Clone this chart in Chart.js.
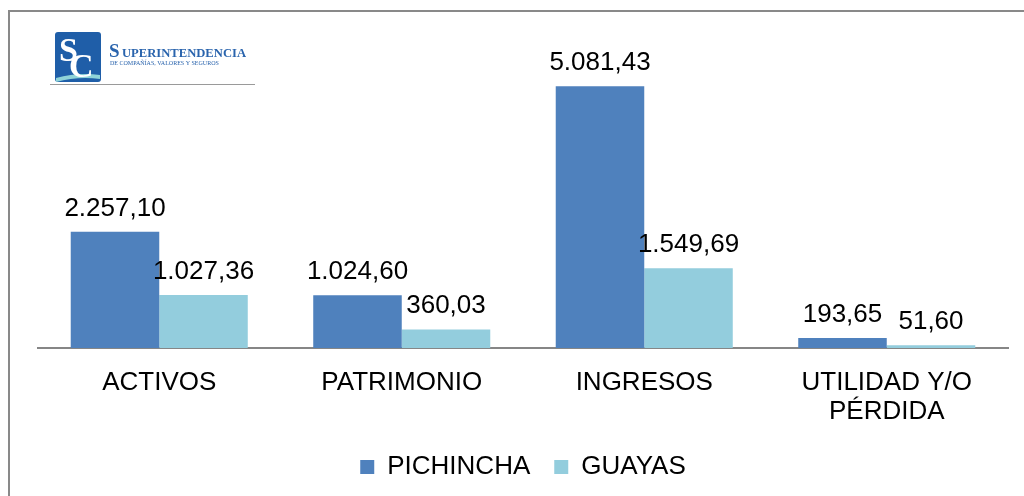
<!DOCTYPE html>
<html><head><meta charset="utf-8">
<script src="https://cdn.jsdelivr.net/npm/chart.js@4.4.0/dist/chart.umd.min.js"></script>
<style>html,body{margin:0;padding:0;background:#fff}#wrap{width:1024px;height:496px;position:relative}</style>
</head><body><div id="wrap"><canvas id="c" width="1024" height="496"></canvas></div>
<script>
const categories = ['ACTIVOS', 'PATRIMONIO', 'INGRESOS', ['UTILIDAD Y/O', 'PÉRDIDA']];
const seriesNames = ['PICHINCHA', 'GUAYAS'];
const pichincha = [2257.10, 1024.60, 5081.43, 193.65];
const guayas = [1027.36, 360.03, 1549.69, 51.60];
const seriesColors = ['#4F81BD', '#93CDDD'];

function fmt(v) {
  const parts = v.toFixed(2).split('.');
  const intPart = parts[0].replace(/\B(?=(\d{3})+(?!\d))/g, '.');
  return intPart + ',' + parts[1];
}

function roundRect(ctx, x, y, w, h, r) {
  ctx.beginPath();
  ctx.moveTo(x + r, y);
  ctx.lineTo(x + w - r, y); ctx.quadraticCurveTo(x + w, y, x + w, y + r);
  ctx.lineTo(x + w, y + h - r); ctx.quadraticCurveTo(x + w, y + h, x + w - r, y + h);
  ctx.lineTo(x + r, y + h); ctx.quadraticCurveTo(x, y + h, x, y + h - r);
  ctx.lineTo(x, y + r); ctx.quadraticCurveTo(x, y, x + r, y);
  ctx.closePath();
}

const decorPlugin = {
  id: 'decor',
  beforeDraw(chart) {
    const ctx = chart.ctx;
    ctx.save();
    ctx.fillStyle = '#fff';
    ctx.fillRect(0, 0, chart.width, chart.height);
    // frame
    ctx.strokeStyle = '#898989';
    ctx.lineWidth = 2;
    ctx.beginPath();
    ctx.moveTo(9, 496); ctx.lineTo(9, 11); ctx.lineTo(1024, 11);
    ctx.stroke();
    // logo box
    const x = 55, y = 32, w = 46, h = 50;
    ctx.fillStyle = '#1f5ea8';
    roundRect(ctx, x, y, w, h, 3);
    ctx.fill();
    ctx.fillStyle = '#8fd3d8';
    ctx.beginPath();
    ctx.moveTo(x + 1, y + h - 4);
    ctx.quadraticCurveTo(x + w / 2, y + h - 10, x + w - 1, y + h - 7);
    ctx.lineTo(x + w - 1, y + h - 3);
    ctx.quadraticCurveTo(x + w / 2, y + h - 6, x + 1, y + h);
    ctx.closePath();
    ctx.fill();
    ctx.fillStyle = '#ffffff';
    ctx.font = 'bold 34px "Liberation Serif"';
    ctx.textBaseline = 'alphabetic';
    ctx.textAlign = 'left';
    ctx.fillText('S', x + 4, y + 29);
    ctx.fillText('C', x + 14, y + 45);
    // logo text
    ctx.fillStyle = '#2a64ad';
    ctx.font = 'bold 19px "Liberation Serif"';
    ctx.fillText('S', 109, 57);
    ctx.font = 'bold 13px "Liberation Serif"';
    ctx.fillText('UPERINTENDENCIA', 122, 57, 124);
    ctx.font = '6px "Liberation Serif"';
    ctx.fillText('DE COMPAÑÍAS, VALORES Y SEGUROS', 110, 65, 136);
    ctx.strokeStyle = '#9a9a9a';
    ctx.lineWidth = 1;
    ctx.beginPath();
    ctx.moveTo(50, 84.5); ctx.lineTo(255, 84.5);
    ctx.stroke();
    ctx.restore();
  },
  afterDatasetsDraw(chart) {
    const ctx = chart.ctx;
    ctx.save();
    ctx.fillStyle = '#000';
    ctx.font = '26px "Liberation Sans"';
    ctx.textAlign = 'center';
    ctx.textBaseline = 'alphabetic';
    chart.data.datasets.forEach((ds, i) => {
      const meta = chart.getDatasetMeta(i);
      meta.data.forEach((el, j) => {
        ctx.fillText(fmt(ds.data[j]), el.x, el.y - 16);
      });
    });
    ctx.restore();
  }
};

new Chart(document.getElementById('c'), {
  type: 'bar',
  data: {
    labels: categories,
    datasets: [
      { label: seriesNames[0], data: pichincha, backgroundColor: seriesColors[0], categoryPercentage: 0.73, barPercentage: 1 },
      { label: seriesNames[1], data: guayas, backgroundColor: seriesColors[1], categoryPercentage: 0.73, barPercentage: 1 }
    ]
  },
  options: {
    responsive: false,
    animation: false,
    devicePixelRatio: 1,
    layout: { padding: { left: 38, right: 16, top: 39, bottom: 6 } },
    plugins: {
      legend: {
        position: 'bottom',
        labels: {
          color: '#000',
          font: { family: '"Liberation Sans"', size: 26 },
          boxWidth: 14, boxHeight: 14, padding: 24
        }
      },
      tooltip: { enabled: false }
    },
    scales: {
      x: {
        grid: { display: false },
        border: { display: true, color: '#868686', width: 2 },
        ticks: { color: '#000', font: { family: '"Liberation Sans"', size: 26, lineHeight: 1.12 }, padding: 12, maxRotation: 0, autoSkip: false },
        afterFit(scale) { scale.height = 82; }
      },
      y: { display: false, min: 0, max: 6000 }
    }
  },
  plugins: [decorPlugin]
});
</script>
</body></html>
